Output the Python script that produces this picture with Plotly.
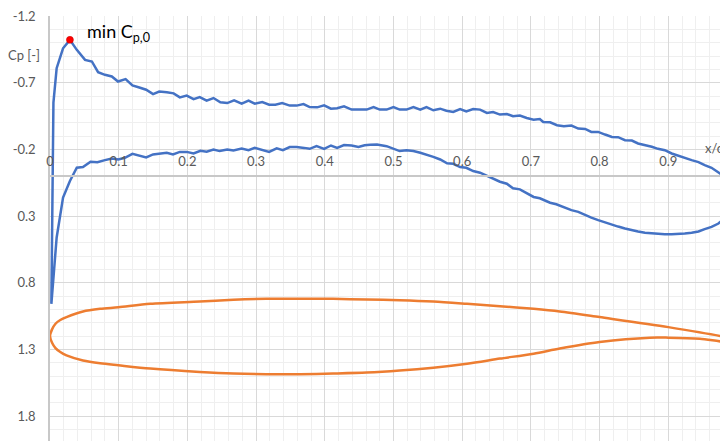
import plotly.graph_objects as go

# ---- Cp distribution (blue), suction side, leading edge -> trailing edge ----
x_suction = [0.005, 0.0097, 0.019, 0.029, 0.039, 0.051, 0.061, 0.070, 0.080, 0.090, 0.099,
             0.110, 0.120, 0.130, 0.140, 0.150, 0.159, 0.170, 0.180, 0.189, 0.199, 0.209,
             0.218, 0.228, 0.238, 0.248, 0.258, 0.268, 0.279, 0.289, 0.298, 0.309, 0.319,
             0.328, 0.338, 0.349, 0.359, 0.369, 0.378, 0.389, 0.399, 0.409, 0.418, 0.428,
             0.439, 0.449, 0.461, 0.471, 0.480, 0.490, 0.500, 0.509, 0.519, 0.529, 0.539,
             0.548, 0.558, 0.568, 0.577, 0.587, 0.597, 0.606, 0.616, 0.626, 0.636, 0.645,
             0.655, 0.665, 0.674, 0.684, 0.694, 0.704, 0.713, 0.718, 0.728, 0.738, 0.748,
             0.759, 0.769, 0.779, 0.788, 0.798, 0.808, 0.818, 0.827, 0.837, 0.847, 0.856,
             0.866, 0.876, 0.885, 0.895, 0.905, 0.914, 0.924, 0.934, 0.944, 0.953, 0.963,
             0.973, 0.983, 0.990, 1.0]
cp_suction = [-0.55, -0.809, -0.958, -1.021, -0.946, -0.871, -0.859, -0.779, -0.759, -0.747, -0.709,
              -0.727, -0.679, -0.664, -0.647, -0.614, -0.634, -0.629, -0.620, -0.590, -0.603, -0.577,
              -0.592, -0.566, -0.585, -0.553, -0.547, -0.567, -0.543, -0.565, -0.543, -0.555, -0.535,
              -0.535, -0.547, -0.528, -0.528, -0.540, -0.517, -0.515, -0.530, -0.505, -0.508, -0.523,
              -0.498, -0.496, -0.498, -0.517, -0.498, -0.498, -0.517, -0.498, -0.498, -0.517, -0.498,
              -0.517, -0.493, -0.505, -0.490, -0.480, -0.502, -0.485, -0.502, -0.498, -0.473, -0.480,
              -0.461, -0.465, -0.448, -0.453, -0.435, -0.423, -0.428, -0.405, -0.403, -0.381, -0.373,
              -0.378, -0.356, -0.353, -0.331, -0.331, -0.311, -0.293, -0.291, -0.269, -0.266, -0.244,
              -0.229, -0.219, -0.204, -0.194, -0.169, -0.157, -0.137, -0.119, -0.104, -0.082, -0.062,
              -0.030, 0.008, 0.040, 0.130]

# stagnation point
x_stag = [0.002]
cp_stag = [0.958]

# ---- pressure side, leading edge -> trailing edge ----
x_pressure = [0.0097, 0.019, 0.029, 0.039, 0.048, 0.059, 0.069, 0.080, 0.090, 0.0995, 0.109,
              0.120, 0.131, 0.140, 0.150, 0.160, 0.170, 0.179, 0.189, 0.199, 0.209, 0.219,
              0.228, 0.238, 0.247, 0.258, 0.267, 0.279, 0.289, 0.298, 0.308, 0.319, 0.330,
              0.339, 0.349, 0.359, 0.370, 0.378, 0.388, 0.399, 0.409, 0.418, 0.428, 0.439,
              0.449, 0.458, 0.466, 0.476, 0.490, 0.500, 0.509, 0.519, 0.529, 0.539, 0.548,
              0.558, 0.568, 0.578, 0.587, 0.597, 0.606, 0.616, 0.626, 0.636, 0.645, 0.655,
              0.665, 0.674, 0.684, 0.694, 0.704, 0.713, 0.728, 0.737, 0.747, 0.759, 0.769,
              0.779, 0.788, 0.798, 0.808, 0.818, 0.827, 0.837, 0.847, 0.856, 0.866, 0.876,
              0.885, 0.895, 0.905, 0.914, 0.924, 0.934, 0.944, 0.953, 0.963, 0.973, 0.980,
              0.987, 0.995, 1.0]
cp_pressure = [0.461, 0.162, 0.037, -0.062, -0.067, -0.107, -0.104, -0.119, -0.132, -0.124, -0.137,
               -0.166, -0.154, -0.140, -0.162, -0.169, -0.174, -0.162, -0.181, -0.181, -0.169, -0.189,
               -0.183, -0.199, -0.187, -0.199, -0.192, -0.207, -0.194, -0.211, -0.199, -0.181, -0.207,
               -0.194, -0.217, -0.217, -0.211, -0.204, -0.224, -0.204, -0.229, -0.211, -0.232, -0.229,
               -0.218, -0.231, -0.235, -0.237, -0.224, -0.207, -0.187, -0.194, -0.187, -0.174, -0.162,
               -0.144, -0.124, -0.095, -0.092, -0.067, -0.062, -0.037, -0.025, 0.000, 0.017, 0.043,
               0.058, 0.092, 0.100, 0.129, 0.157, 0.167, 0.200, 0.212, 0.232, 0.256, 0.269,
               0.294, 0.312, 0.331, 0.349, 0.366, 0.379, 0.394, 0.403, 0.416, 0.426, 0.431,
               0.433, 0.436, 0.436, 0.436, 0.431, 0.426, 0.416, 0.398, 0.381, 0.356, 0.324,
               0.282, 0.220, 0.130]

# ---- airfoil contour (orange), LE -> TE ----
x_af_upper = [0.0, 0.003, 0.008, 0.015, 0.024, 0.048, 0.073, 0.0995, 0.146, 0.218, 0.267, 0.315,
              0.364, 0.412, 0.461, 0.509, 0.558, 0.607, 0.655, 0.704, 0.742, 0.80, 0.90, 0.987, 1.0]
y_af_upper = [1.20, 1.15, 1.108, 1.08, 1.058, 1.016, 0.996, 0.984, 0.958, 0.941, 0.928, 0.921,
              0.920, 0.921, 0.926, 0.931, 0.941, 0.958, 0.976, 0.996, 1.016, 1.058, 1.133, 1.212, 1.232]
x_af_lower = [0.0, 0.003, 0.008, 0.015, 0.024, 0.048, 0.073, 0.0995, 0.146, 0.218, 0.267, 0.315,
              0.364, 0.412, 0.461, 0.509, 0.558, 0.607, 0.655, 0.704, 0.742, 0.80, 0.873, 0.90,
              0.946, 0.987, 1.0]
y_af_lower = [1.20, 1.25, 1.29, 1.32, 1.345, 1.383, 1.404, 1.419, 1.444, 1.469, 1.481, 1.486,
              1.486, 1.481, 1.474, 1.459, 1.437, 1.407, 1.369, 1.332, 1.294, 1.245, 1.212, 1.212,
              1.220, 1.245, 1.232]

# axis ticks
x_tickvals = [0, 0.1, 0.2, 0.3, 0.4, 0.5, 0.6, 0.7, 0.8, 0.9]
x_ticktext = ["0", "0.1", "0.2", "0.3", "0.4", "0.5", "0.6", "0.7", "0.8", "0.9"]
y_tickvals = [-1.2, -0.7, -0.2, 0.3, 0.8, 1.3, 1.8]
y_ticktext = ["-1.2", "-0.7", "-0.2", "0.3", "0.8", "1.3", "1.8"]

# the page body adds an 8px offset; the plot area is extended past the
# visible window so that the visible part matches the reference
X_RANGE = [0, 0.9986]
Y_RANGE = [2.047, -1.2]

BLUE = "#4472C4"
ORANGE = "#ED7D31"
FONT = "Lato, Carlito, Calibri, sans-serif"

fig = go.Figure()

# airfoil
fig.add_trace(go.Scatter(
    x=x_af_upper[::-1] + x_af_lower[1:],
    y=y_af_upper[::-1] + y_af_lower[1:],
    mode="lines", line=dict(color=ORANGE, width=2.5, shape="spline", smoothing=0.8),
    hoverinfo="skip"))

# Cp
fig.add_trace(go.Scatter(
    x=x_suction[::-1] + x_stag + x_pressure,
    y=cp_suction[::-1] + cp_stag + cp_pressure,
    mode="lines", line=dict(color=BLUE, width=2.5)))

# min Cp marker
i_min = min(range(len(cp_suction)), key=lambda i: cp_suction[i])
fig.add_trace(go.Scatter(
    x=[x_suction[i_min]], y=[cp_suction[i_min]], mode="markers",
    marker=dict(color="#FF0000", size=7, line=dict(color="#C00000", width=0.5))))

y0_frac = (Y_RANGE[0] - 0) / (Y_RANGE[0] - Y_RANGE[1])

fig.update_layout(
    width=728, height=441,
    margin=dict(l=42, r=0, t=6, b=0),
    paper_bgcolor="white", plot_bgcolor="white",
    showlegend=False,
    font=dict(family=FONT, size=13, color="#595959"),
    xaxis=dict(
        range=X_RANGE, tickvals=x_tickvals, ticktext=x_ticktext,
        showgrid=True, gridcolor="#D9D9D9", gridwidth=1,
        minor=dict(dtick=0.02, tick0=0, showgrid=True, gridcolor="#EFEFEF", gridwidth=1),
        zeroline=False, showline=True, linecolor="#C8C8C8", linewidth=1.5,
        side="top", anchor="free", position=y0_frac,
        ticks="", ticklabelstandoff=4,
        tickfont=dict(family=FONT, size=13, color="#595959"),
    ),
    yaxis=dict(
        range=Y_RANGE, tickvals=y_tickvals, ticktext=y_ticktext,
        showgrid=True, gridcolor="#D9D9D9", gridwidth=1,
        minor=dict(dtick=0.1, tick0=-1.2, showgrid=True, gridcolor="#EFEFEF", gridwidth=1),
        zeroline=False, showline=True, linecolor="#C8C8C8", linewidth=1.5,
        ticks="", ticklabelstandoff=10, ticklabeloverflow="allow",
        tickfont=dict(family=FONT, size=13, color="#595959"),
    ),
    annotations=[
        dict(x=0.0505, y=-1.08, xref="x", yref="y", text="min C<sub>p,0</sub>",
             showarrow=False, xanchor="left", yanchor="middle",
             font=dict(family=FONT, size=18, color="#000000")),
        dict(x=0, y=-0.91, xref="paper", yref="y", text="Cp [-]", showarrow=False,
             xanchor="right", yanchor="middle", xshift=-8,
             font=dict(family=FONT, size=13, color="#595959")),
        dict(x=0.9505, y=-0.207, xref="x", yref="y", text="x/c [-]", showarrow=False,
             xanchor="left", yanchor="middle",
             font=dict(family=FONT, size=13, color="#595959")),
    ],
)

fig.write_html("out.html")
